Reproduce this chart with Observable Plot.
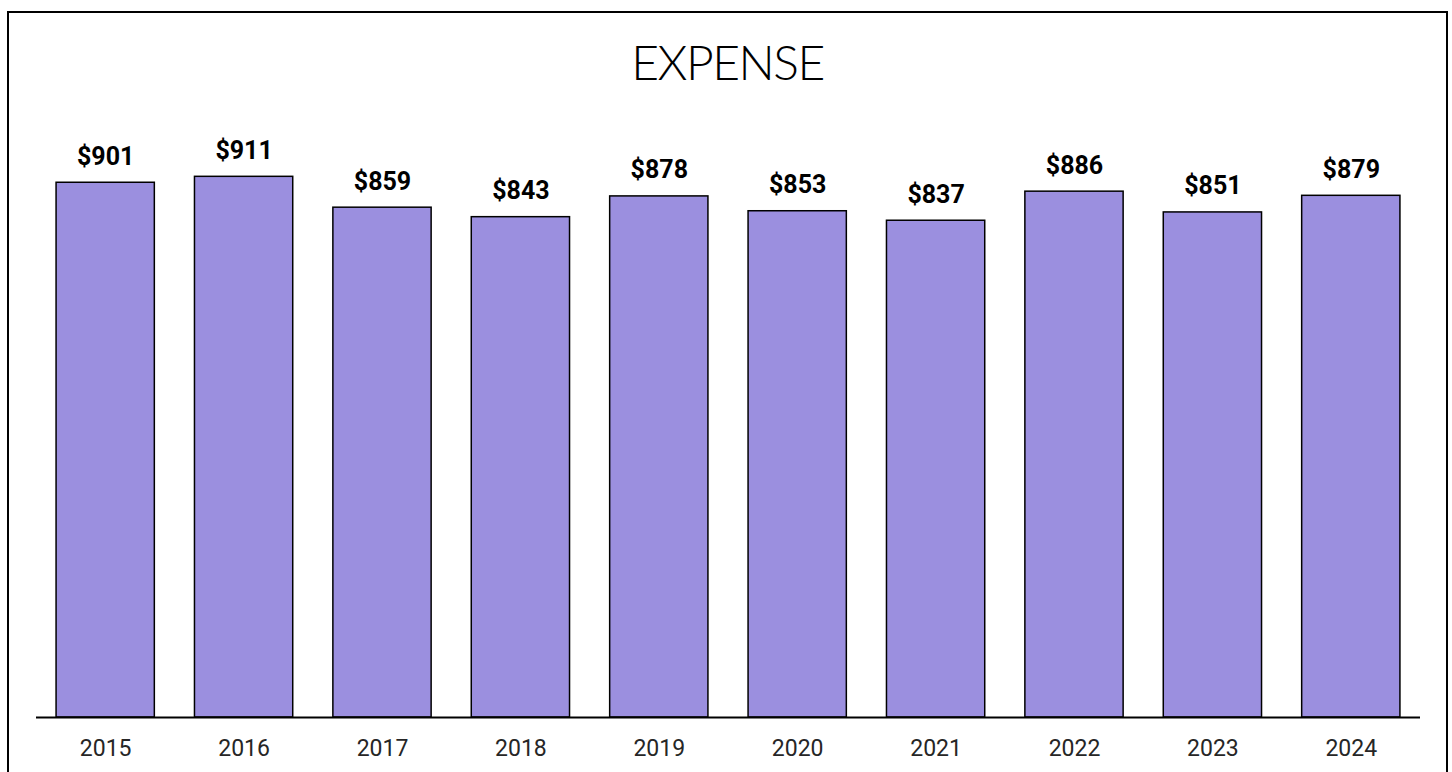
<!DOCTYPE html>
<html>
<head>
<meta charset="utf-8">
<script src="https://cdn.jsdelivr.net/npm/d3@7"></script>
<script src="https://cdn.jsdelivr.net/npm/@observablehq/plot@0.6"></script>
<style>
  html, body { margin: 0; padding: 0; background: #fff; width: 1452px; height: 772px; overflow: hidden; position: relative; }
  #frame { position: absolute; left: 7px; top: 11px; width: 1441px; height: 800px; border: 2px solid #000; box-sizing: border-box; }
  #title { position: absolute; left: 7px; top: 11px; width: 1441px; height: 100px; text-align: center;
           font-family: Lato, "Noto Sans", sans-serif; font-weight: 300; font-size: 48px; line-height: 102px;
           letter-spacing: -1.5px; color: #000; }
  #chart { position: absolute; left: 0; top: 111px; }
</style>
</head>
<body>
<div id="frame"></div>
<div id="title">EXPENSE</div>
<div id="chart"></div>
<script>
const years = ["2015","2016","2017","2018","2019","2020","2021","2022","2023","2024"];
const expense = [901, 911, 859, 843, 878, 853, 837, 886, 851, 879];

const data = years.map((y, i) => ({year: y, value: expense[i]}));

const chart = Plot.plot({
  width: 1452,
  height: 661,
  marginLeft: 36,
  marginRight: 32,
  marginTop: 12.5,
  marginBottom: 55,
  style: {background: "transparent", overflow: "visible"},
  x: {domain: years, paddingInner: 0.29, paddingOuter: 0.145, round: false, label: null},
  y: {domain: [0, 1000], axis: null},
  marks: [
    Plot.barY(data, {x: "year", y: "value", fill: "#9B8FDF", stroke: "#000", strokeWidth: 1.5}),
    Plot.ruleY([0], {stroke: "#000", strokeWidth: 2}),
    Plot.text(data, {x: "year", y: "value", text: d => "$" + d.value, lineAnchor: "bottom", dy: -18,
      fontFamily: "Roboto, sans-serif", fontWeight: "bold", fontSize: 25, fill: "#000"}),
    Plot.axisX({tickSize: 0, tickPadding: 22, fontSize: 23, fontFamily: "Roboto, sans-serif", color: "#262626", label: null})
  ]
});
document.getElementById("chart").appendChild(chart);
</script>
</body>
</html>
